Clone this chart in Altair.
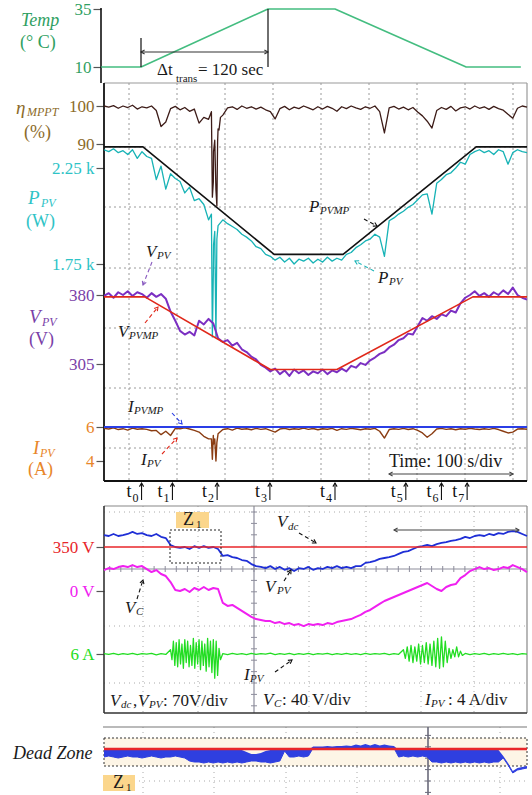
import math
import altair as alt
import pandas as pd

SERIF = "Liberation Serif"
W, H = 532, 795

# Shared time axis: 100 s spans 47.53 px, the panels' left edge (x = 104 px) sits at t = -50 s
PX_PER_S = 0.4753
LEFT = 104
T_LEFT = -50.0
XSCALE = alt.Scale(domain=[T_LEFT - LEFT / PX_PER_S, T_LEFT + (W - LEFT) / PX_PER_S], nice=False, zero=False)

# ---------------------------------------------------------------- data
T = list(range(-50, 841, 10))           # sample times of the recorded traces (s)

TEMP_T = [-56, 28, 295, 436, 712, 827]
TEMP_C = [10, 10, 35, 35, 10, 10]

ETA = [100.0, 99.7, 100.1, 99.4, 100.0, 99.6, 100.2, 99.2, 99.8, 99.5,
       100.0, 98.8, 94.6, 95.8, 99.3, 99.9, 99.0, 99.6, 98.6, 99.2,
       95.5, 97.0, 96.5, 80.0, 94.0, 97.6, 99.5, 99.8, 99.1, 100.0,
       99.4, 99.8, 99.2, 99.7, 99.0, 98.5, 96.6, 99.3, 99.9, 99.0,
       99.7, 99.3, 100.0, 99.5, 99.0, 99.8, 99.2, 99.9, 99.4, 98.6,
       99.8, 99.3, 100.0, 99.5, 99.1, 99.8, 99.4, 100.0, 98.5, 92.9,
       99.5, 99.9, 99.2, 99.7, 99.0, 99.6, 98.4, 97.4, 96.0, 94.2,
       98.8, 99.6, 99.1, 99.9, 98.7, 99.5, 99.8, 99.2, 100.0, 99.4,
       99.8, 99.1, 99.9, 99.3, 98.9, 97.8, 96.8, 99.4, 100.0, 99.7]
ETA_DIP_T = [176, 178, 180.5, 183, 185.5, 187.5, 189, 192, 195]
ETA_DIP = [98.5, 76.0, 88.0, 91.0, 78.0, 73.7, 90.5, 93.7, 97.0]

P_PV = [2345, 2335, 2350, 2330, 2340, 2320, 2345, 2300, 2335, 2310,
        2300, 2190, 2260, 2140, 2220, 2195, 2180, 2120, 2150, 2080,
        2090, 2060, 1980, 1700, 1950, 1980, 1960, 1945, 1930, 1905,
        1890, 1870, 1840, 1830, 1800, 1790, 1770, 1785, 1760, 1780,
        1750, 1775, 1765, 1780, 1755, 1775, 1760, 1785, 1765, 1780,
        1770, 1800, 1810, 1835, 1850, 1870, 1880, 1905, 1890, 1790,
        1975, 1990, 2010, 2025, 2045, 2060, 2085, 2110, 2115, 2010,
        2170, 2190, 2215, 2225, 2250, 2280, 2270, 2320, 2335, 2345,
        2330, 2340, 2320, 2345, 2335, 2270, 2330, 2345, 2335, 2330]
P_DIP_T = [176, 178, 180.5, 183, 185.5, 187.5]
P_DIP = [2010, 1370, 1850, 1920, 1370, 1880]

PMP_T = [-50, 32, 308, 453, 733, 840]
PMP_W = [2360, 2360, 1800, 1800, 2360, 2360]

V_PV = [379, 382, 377, 383, 380, 384, 379, 383, 381, 377,
        382, 378, 381, 376, 362, 352, 341, 337, 340, 336,
        352, 348, 354, 349, 333, 329, 331, 325, 328, 321,
        318, 313, 310, 304, 301, 297, 300, 294, 298, 292,
        299, 295, 298, 293, 297, 295, 299, 294, 298, 296,
        300, 297, 303, 301, 306, 304, 309, 312, 316, 318,
        323, 326, 331, 333, 338, 337, 346, 355, 352, 357,
        354, 359, 357, 363, 361, 371, 377, 380, 384, 379,
        382, 378, 383, 380, 385, 381, 388, 380, 377, 375]

VMP_T = [-50, 36, 300, 440, 726, 840]
VMP_V = [378, 378, 299, 299, 378, 378]

I_PV = [5.92, 5.88, 5.95, 5.85, 5.90, 5.82, 5.93, 5.87, 5.90, 5.86,
        5.78, 5.80, 5.55, 5.75, 5.50, 5.92, 5.90, 5.95, 5.88, 5.80,
        5.70, 5.45, 5.30, 5.50, 5.60, 5.85, 5.90, 5.82, 5.93, 5.87,
        5.90, 5.84, 5.92, 5.86, 5.90, 5.80, 5.70, 5.88, 5.92, 5.85,
        5.90, 5.87, 5.93, 5.86, 5.91, 5.84, 5.90, 5.87, 5.92, 5.80,
        5.90, 5.86, 5.92, 5.88, 5.84, 5.90, 5.87, 5.92, 5.75, 5.35,
        5.85, 5.90, 5.86, 5.92, 5.85, 5.90, 5.80, 5.65, 5.40, 5.60,
        5.88, 5.92, 5.86, 5.90, 5.84, 5.90, 5.87, 5.92, 5.88, 5.85,
        5.90, 5.86, 5.92, 5.85, 5.75, 5.65, 5.70, 5.88, 5.90, 5.87]
I_DIP_T = [176, 178, 180.5, 183, 185.5, 187.5]
I_DIP = [5.3, 4.1, 5.0, 5.3, 4.0, 5.1]

IMP_T = [-50, 840]
IMP_A = [6.0, 6.0]

T_MARKS = [29, 94, 188, 299, 436, 585, 660, 714]

# oscilloscope record
VDC_T = [-50, 840]
VDC_V = [350, 350]

SC_VPV = [364.5, 363.5, 366, 363.5, 364.5, 366, 368.5, 366, 367, 364.5,
          363.5, 366, 362.5, 361, 352.5, 350, 349, 350, 347.5, 351,
          349, 351, 349, 350, 347.5, 339, 340, 337.5, 336.5, 334,
          333, 329, 326.5, 325.5, 324, 326.5, 323, 325.5, 322, 324,
          320.5, 324, 323, 325.5, 322, 324, 323, 325.5, 324, 326.5,
          324, 325.5, 324, 326.5, 326.5, 330.5, 331.5, 333, 335.5, 336.5,
          337.5, 339, 341.5, 344, 345, 347.5, 350, 351, 352.5, 351,
          353.5, 355, 356, 357.5, 358.5, 360, 362.5, 361, 363.5, 364.5,
          363.5, 366, 364.5, 367, 366, 368.5, 369.5, 368.5, 366, 363.5]

SC_VC = [14.7, 16.1, 15.4, 16.8, 17.5, 16.8, 18.2, 16.8, 17.5, 15.4,
         13.3, 14.7, 11.9, 10.5, 6.3, 0.7, 0.0, 1.4, -0.7, 2.1,
         0.7, 2.8, 0.7, 2.1, 1.4, -8.4, -10.5, -9.8, -11.9, -14.0,
         -16.1, -18.2, -19.7, -20.4, -21.1, -21.1, -22.5, -21.8, -23.2, -22.5,
         -23.9, -23.2, -24.6, -23.2, -23.9, -23.2, -23.9, -22.5, -23.2, -21.8,
         -21.1, -20.4, -19.7, -18.2, -16.8, -14.7, -13.3, -11.2, -9.1, -7.0,
         -5.6, -4.2, -2.8, -1.4, 0.0, 1.4, 2.8, 4.2, 5.6, 3.5,
         1.4, 0.0, 2.8, 4.2, 4.9, 9.1, 11.2, 14.0, 15.4, 16.8,
         15.4, 16.1, 14.7, 15.4, 16.8, 16.1, 18.2, 16.8, 15.4, 13.3]

SC_IPV_T = (list(range(-50, 81, 10)) + list(range(90, 196, 3)) + list(range(200, 571, 10))
            + list(range(580, 705, 4)) + list(range(710, 841, 10)))
SC_IPV = ([6.02, 5.97, 6.04, 5.95, 6.03, 5.98, 6.05, 5.96, 6.02, 5.99, 6.04, 5.94, 6.03, 5.97]
          + [6.3, 5.6, 6.9, 5.2, 6.8, 5.1, 7.0, 5.3, 6.7, 5.0, 7.0, 5.4, 6.9, 5.1, 6.6, 5.2, 7.1, 5.0,
             6.8, 5.3, 7.0, 4.9, 6.9, 5.2, 6.7, 4.8, 7.1, 5.1, 6.9, 4.7, 7.0, 4.3, 6.9, 4.5, 6.4, 5.6]
          + [6.03, 5.96, 6.05, 5.98, 6.02, 5.95, 6.04, 5.97, 6.03, 5.99, 6.06, 5.96, 6.02, 5.98,
             6.04, 5.95, 6.03, 5.97, 6.05, 5.96, 6.02, 5.99, 6.04, 5.95, 6.03, 5.97, 6.05, 5.98,
             6.02, 5.96, 6.04, 5.97, 6.03, 5.99, 6.05, 5.96, 6.02, 5.98]
          + [6.3, 5.7, 6.5, 5.5, 6.6, 5.4, 6.5, 5.5, 6.7, 5.3, 6.6, 5.4, 6.8, 5.3, 6.7, 5.2,
             6.9, 5.1, 7.1, 5.0, 7.2, 5.1, 6.9, 5.4, 6.4, 5.7, 6.3, 5.8, 6.5, 5.8, 6.2, 5.9]
          + [6.04, 5.96, 6.03, 5.98, 6.05, 5.95, 6.02, 5.97, 6.04, 5.98, 6.03, 5.96, 6.02, 5.99])

# dead-zone strip: envelope of the tracking voltage around the 350 V reference
DZ_UPPER = [349.5, 349.5, 349.5, 349.5, 349.5, 349.5, 349.5, 349.5, 349.5, 349.5,
            349.5, 349.5, 349.5, 349.5, 349.5, 349.5, 349.5, 349.5, 349.5, 349.5,
            349.5, 349.5, 349.5, 349.5, 349.5, 349.5, 349.5, 349.5, 349.5, 349.5,
            348.5, 347.5, 347.5, 348.0, 349.0, 349.5, 349.5, 349.5, 349.5, 349.5,
            349.5, 349.5, 349.5, 349.5, 351.25, 351.25, 351.25, 351.5, 351.25, 351.5,
            351.5, 351.75, 351.5, 352.25, 351.75, 352.5, 351.75, 352.5, 351.75, 352.25,
            351.75, 351.5, 349.5, 349.5, 349.5, 349.5, 349.5, 349.5, 349.5, 349.5,
            349.5, 349.5, 349.5, 349.5, 349.5, 349.5, 349.5, 349.5, 349.5, 349.5,
            349.5, 349.5, 349.5, 349.5, 346.5, 343.0, 339.0, 340.5, 341.0, 341.5]
DZ_LOWER = [346, 346.5, 346, 345.5, 346, 346.5, 346, 346, 345.5, 346,
            346.5, 346, 345.5, 346, 346, 346.5, 346, 345.5, 344, 343.5,
            343.5, 343, 343.5, 343, 343.5, 343, 343.5, 343, 343.5, 343,
            343.5, 344, 344, 343.5, 343.5, 343, 343.5, 344, 349, 346,
            346, 346.5, 346, 346.5, 350.5, 350.5, 350.5, 350.5, 350.5, 350.5,
            350.5, 350.5, 350.5, 350.5, 350.5, 350.5, 350.5, 350.5, 350.5, 350.5,
            350.5, 350.5, 346, 346.5, 346, 346.5, 346, 346.5, 346, 343.5,
            343.5, 343, 343.5, 343, 343.5, 343, 343.5, 343, 343.5, 343,
            343.5, 343, 343.5, 343.5, 345.5, 342, 338, 339.5, 340, 340.5]

# ---------------------------------------------------------------- colours
TEMP_LINE, TEMP_TXT = "#44bd80", "#2f9f62"
ETA_LINE, ETA_TXT = "#3d1c18", "#8c6b2a"
P_LINE, P_TXT = "#17b3b6", "#2ec3c6"
V_LINE, V_TXT = "#7b2fc2", "#7a3fa8"
VMP_LINE = "#e0281a"
I_LINE, I_TXT = "#8a3c12", "#e8862a"
IMP_LINE = "#2a3ee6"
SC_RED, SC_BLUE, SC_MAG, SC_GRN = "#e8262a", "#1f2fd6", "#f020f0", "#22dd22"
INK = "#1a1a1a"
GRID = "#9a9a9a"
ZONE = "#fbd68c"


def y_domain(v_a, y_a, v_b, y_b):
    """Value range of a full-height y scale on which v_a lands at pixel y_a and v_b at y_b."""
    k = (v_a - v_b) / (y_b - y_a)
    return [v_a - (H - y_a) * k, v_a + y_a * k]


def yscale(dom):
    return alt.Scale(domain=dom, nice=False, zero=False)


def left_axis(values, color, offset=-LEFT, expr=None):
    kw = dict(orient="left", offset=offset, values=values, domain=False, grid=False,
              ticks=True, tickSize=8, tickColor="#555", tickWidth=1.2,
              labelColor=color, labelFont=SERIF, labelFontSize=17, labelPadding=2,
              title=None, labelOverlap=False)
    if expr:
        kw["labelExpr"] = expr
    return alt.Axis(**kw)


def trace(t, v, color, dom, width=1.4, axis=None):
    df = pd.DataFrame({"t": t, "v": v})
    return alt.Chart(df).mark_line(color=color, strokeWidth=width, strokeJoin="round").encode(
        x=alt.X("t:Q", scale=XSCALE, axis=None),
        y=alt.Y("v:Q", scale=yscale(dom), axis=axis),
    )


def merged(t_base, v_base, t_extra, v_extra):
    df = pd.DataFrame({"t": list(t_base) + list(t_extra), "v": list(v_base) + list(v_extra)})
    return df.sort_values("t")


def px_rules(rows, color, width=1.0, dash=None):
    df = pd.DataFrame(rows, columns=["x", "y", "x2", "y2"])
    mk = dict(color=color, strokeWidth=width)
    if dash:
        mk["strokeDash"] = dash
    return alt.Chart(df).mark_rule(**mk).encode(
        x=alt.X("x:Q", scale=None), y=alt.Y("y:Q", scale=None), x2="x2:Q", y2="y2:Q")


def px_rects(rows, fill, stroke=None, dash=None):
    df = pd.DataFrame(rows, columns=["x", "y", "x2", "y2"])
    mk = dict(fill=fill, opacity=1)
    if stroke:
        mk.update(stroke=stroke, strokeWidth=1)
    if dash:
        mk["strokeDash"] = dash
    return alt.Chart(df).mark_rect(**mk).encode(
        x=alt.X("x:Q", scale=None), y=alt.Y("y:Q", scale=None), x2="x2:Q", y2="y2:Q")


def labels(rows, italic=False):
    df = pd.DataFrame(rows, columns=["x", "y", "text", "size", "color"])
    return alt.Chart(df).mark_text(font=SERIF, align="left", baseline="middle",
                                   fontStyle="italic" if italic else "normal").encode(
        x=alt.X("x:Q", scale=None), y=alt.Y("y:Q", scale=None), text="text:N",
        size=alt.Size("size:Q", scale=None), color=alt.Color("color:N", scale=None))


HEAD = "M-0.7,1.2L0,0L0.7,1.2"


def heads(rows, size=36):
    df = pd.DataFrame(rows, columns=["x", "y", "a", "color"])
    return alt.Chart(df).mark_point(shape=HEAD, filled=False, size=size, opacity=1, strokeWidth=1.1).encode(
        x=alt.X("x:Q", scale=None), y=alt.Y("y:Q", scale=None),
        angle=alt.Angle("a:Q", scale=None), color=alt.Color("color:N", scale=None))


def head_angle(x1, y1, x2, y2):
    return math.degrees(math.atan2(x2 - x1, -(y2 - y1))) % 360


def arrows(rows, dashed=True, both=False):
    """rows: (x1, y1, x2, y2, colour); head drawn at (x2, y2), and at (x1, y1) too when both."""
    df = pd.DataFrame(rows, columns=["x", "y", "x2", "y2", "color"])
    mk = dict(strokeWidth=1.1)
    if dashed:
        mk["strokeDash"] = [4, 3]
    line = alt.Chart(df).mark_rule(**mk).encode(
        x=alt.X("x:Q", scale=None), y=alt.Y("y:Q", scale=None), x2="x2:Q", y2="y2:Q",
        color=alt.Color("color:N", scale=None))
    tips = [(r[2], r[3], head_angle(*r[:4]), r[4]) for r in rows]
    if both:
        tips += [(r[0], r[1], head_angle(r[2], r[3], r[0], r[1]), r[4]) for r in rows]
    return [line, heads(tips)]


# ---------------------------------------------------------------- scales
D_TEMP = y_domain(35, 9, 10, 67)
D_ETA = y_domain(100, 106, 90, 144)
D_P = y_domain(2250, 168, 1750, 264)
D_V = y_domain(380, 295, 305, 364)
D_I = y_domain(6, 427, 4, 461)
D_SCV = y_domain(350, 547, 280, 604)     # 70 V/div
D_SCC = y_domain(0, 591, -40, 648)       # 40 V/div
D_SCI = y_domain(6, 654, 2, 711)         # 4 A/div
D_DZ = y_domain(350, 749, 340, 769)

layers = []

# ---------------------------------------------------------------- grids and frames
main_v = [129, 177, 225, 273, 321, 369, 417, 465, 513]
main_h = [147, 207, 268, 328, 388, 448]
layers.append(px_rules([(x, 83, x, 481) for x in main_v] + [(LEFT, y, 527, y) for y in main_h],
                       GRID, 1, [2, 3]))
layers.append(px_rules([(LEFT, 83, 527, 83), (527, 83, 527, 481)], "#999", 1.2))
layers.append(px_rules([(LEFT, 83, LEFT, 481), (LEFT, 481, 527, 481)], "#111", 1.8))
layers.append(px_rules([(101, 8, 101, 83)], "#111", 1.6))

sc_v = [143, 198, 309, 366, 421, 474]
sc_h = [512, 626, 683]
layers.append(px_rules([(x, 506, x, 713) for x in sc_v] + [(LEFT, y, 527, y) for y in sc_h],
                       "#aaa", 1, [1, 4]))
layers.append(px_rules([(254, 506, 254, 713), (LEFT, 569, 527, 569)], "#8d8d9c", 1.2))
sc_ticks = ([(254 + k * 11.1, 566, 254 + k * 11.1, 572) for k in range(-13, 25) if 104 <= 254 + k * 11.1 <= 527]
            + [(251, 569 + k * 11.4, 257, 569 + k * 11.4) for k in range(-5, 13) if 506 <= 569 + k * 11.4 <= 713])
layers.append(px_rules(sc_ticks, "#8d8d9c", 1))
layers.append(px_rules([(LEFT, 506, 527, 506), (527, 506, 527, 713)], "#888", 1.2))
layers.append(px_rules([(LEFT, 506, LEFT, 713), (LEFT, 713, 527, 713)], "#333", 1.6))

dz_v = [143, 214, 286, 357, 500]
layers.append(px_rules([(x, 727, x, 795) for x in dz_v] + [(LEFT, 781, 527, 781)], "#aaa", 1, [1, 4]))
layers.append(px_rules([(103, 727, 527, 727)], "#777", 1.2))
layers.append(px_rects([(LEFT, 738, 527, 766)], "#fdf5e6", "#333", [2, 2]))
layers.append(px_rules([(428, 727, 428, 795)], "#6a6a7a", 1.6))
layers.append(px_rules([(425, 781 + k * 11.4, 431, 781 + k * 11.4) for k in range(-4, 2)], "#6a6a7a", 1))

# ---------------------------------------------------------------- temperature profile
layers.append(trace(TEMP_T, TEMP_C, TEMP_LINE, D_TEMP, 1.6,
                    left_axis([10, 35], TEMP_TXT, offset=-101)))

# ---------------------------------------------------------------- main record
pdf = merged(T, P_PV, P_DIP_T, P_DIP)
layers.append(trace(pdf["t"], pdf["v"], P_LINE, D_P, 1.3,
                    left_axis([2250, 1750], P_TXT, expr="format(datum.value / 1000, '.2f') + ' k'")))
layers.append(trace(PMP_T, PMP_W, "#111", D_P, 1.6))
edf = merged(T, ETA, ETA_DIP_T, ETA_DIP)
layers.append(trace(edf["t"], edf["v"], ETA_LINE, D_ETA, 1.3, left_axis([100, 90], ETA_TXT)))
layers.append(trace(T, V_PV, V_LINE, D_V, 2.0, left_axis([380, 305], V_TXT)))
layers.append(trace(VMP_T, VMP_V, VMP_LINE, D_V, 1.6))
idf = merged(T, I_PV, I_DIP_T, I_DIP)
layers.append(trace(idf["t"], idf["v"], I_LINE, D_I, 1.4, left_axis([6, 4], I_TXT)))
layers.append(trace(IMP_T, IMP_A, IMP_LINE, D_I, 2.0))

# event markers under the main record
mk = pd.DataFrame({"t": T_MARKS, "n": [str(i) for i in range(len(T_MARKS))]})
layers.append(alt.Chart(mk).mark_rule(color="#111", strokeWidth=1.1).encode(
    x=alt.X("t:Q", scale=XSCALE, axis=None), y=alt.value(500), y2=alt.value(483)))
layers.append(alt.Chart(mk).mark_point(shape=HEAD, filled=False, size=36, opacity=1, color="#111",
                                       strokeWidth=1.1).encode(
    x=alt.X("t:Q", scale=XSCALE, axis=None), y=alt.value(483)))
layers.append(alt.Chart(mk).mark_text(font=SERIF, fontSize=18, align="left", baseline="middle",
                                      dx=-15, color="#111", text="t").encode(
    x=alt.X("t:Q", scale=XSCALE, axis=None), y=alt.value(492)))
layers.append(alt.Chart(mk).mark_text(font=SERIF, fontSize=12, align="left", baseline="middle",
                                      dx=-9, color="#111").encode(
    x=alt.X("t:Q", scale=XSCALE, axis=None), y=alt.value(498), text="n:N"))

# ---------------------------------------------------------------- oscilloscope record
layers.append(trace(T, SC_VPV, SC_BLUE, D_SCV, 1.8))
layers.append(trace(VDC_T, VDC_V, SC_RED, D_SCV, 1.3,
                    left_axis([350], SC_RED, expr="datum.value + ' V'")))
layers.append(trace(T, SC_VC, SC_MAG, D_SCC, 2.0, left_axis([0], SC_MAG, expr="datum.value + ' V'")))
layers.append(trace(SC_IPV_T, SC_IPV, SC_GRN, D_SCI, 1.3, left_axis([6], SC_GRN, expr="datum.value + ' A'")))
layers.append(px_rects([(170, 530, 221, 563)], "transparent", "#222", [2, 2]))
layers.append(px_rects([(176, 512, 209, 528), (103, 775, 135, 791)], ZONE))

# ---------------------------------------------------------------- dead-zone strip
dz = pd.DataFrame({"t": T, "lo": DZ_LOWER, "hi": DZ_UPPER})
layers.append(alt.Chart(dz).mark_area(color="#2f3fe0", opacity=1, line={"color": "#2f3fe0", "strokeWidth": 1}).encode(
    x=alt.X("t:Q", scale=XSCALE, axis=None),
    y=alt.Y("lo:Q", scale=yscale(D_DZ), axis=None), y2="hi:Q"))
layers.append(trace(VDC_T, VDC_V, SC_RED, D_DZ, 2.4))

# ---------------------------------------------------------------- arrows
layers += arrows([
    (152, 262, 143, 285, "#8a5cc0"),
    (145, 323, 158, 307, VMP_LINE),
    (364, 219, 377, 226, "#111"),
    (374, 271, 355, 261, P_LINE),
    (172, 413, 182, 424, IMP_LINE),
    (162, 454, 177, 438, VMP_LINE),
    (299, 533, 316, 543, "#111"),
    (284, 581, 291, 570, "#111"),
    (137, 599, 143, 580, "#111"),
    (275, 672, 292, 660, "#111"),
])
layers += arrows([(141, 52, 268, 52, "#333"), (389, 474, 513, 474, "#444"), (394, 530, 519, 530, "#444")],
                 dashed=False, both=True)
layers.append(px_rules([(141, 38, 141, 67), (268, 9, 268, 67)], "#222", 1.3))

# ---------------------------------------------------------------- text
layers.append(labels([
    (20, 43, "(° C)", 18, TEMP_TXT),
    (24, 133, "(%)", 18, ETA_TXT),
    (26, 222, "(W)", 18, P_TXT),
    (29, 340, "(V)", 18, V_TXT),
    (28, 470, "(A)", 18, I_TXT),
    (157, 70, "Δt", 17, INK),
    (176, 79, "trans", 11, INK),
    (198, 70, "= 120 sec", 17, INK),
    (389, 462, "Time: 100 s/div", 18, INK),
    (183, 520, "Z", 18, INK), (196, 525, "1", 11, INK),
    (113, 783, "Z", 18, INK), (126, 788, "1", 11, INK),
    (133, 701, ",", 17, INK),
    (163, 701, ": 70V/div", 17, INK),
    (282, 700, ": 40 V/div", 17, INK),
    (448, 700, ": 4 A/div", 17, INK),
]))
layers.append(labels([
    (21, 21, "Temp", 18, TEMP_TXT),
    (16, 108, "η", 19, ETA_TXT), (27, 112, "MPPT", 12, ETA_TXT),
    (28, 198, "P", 19, P_TXT), (41, 203, "PV", 12, P_TXT),
    (29, 317, "V", 19, V_TXT), (42, 322, "PV", 12, V_TXT),
    (33, 448, "I", 19, I_TXT), (40, 453, "PV", 12, I_TXT),
    (146, 252, "V", 17, INK), (157, 256, "PV", 11, INK),
    (118, 332, "V", 17, INK), (129, 336, "PVMP", 11, INK),
    (309, 207, "P", 17, INK), (320, 211, "PVMP", 11, INK),
    (378, 278, "P", 17, INK), (389, 282, "PV", 11, INK),
    (128, 407, "I", 17, INK), (134, 411, "PVMP", 11, INK),
    (141, 460, "I", 17, INK), (147, 464, "PV", 11, INK),
    (277, 522, "V", 17, INK), (288, 527, "dc", 11, INK),
    (265, 587, "V", 17, INK), (277, 591, "PV", 11, INK),
    (125, 608, "V", 17, INK), (136, 612, "C", 11, INK),
    (244, 675, "I", 17, INK), (250, 679, "PV", 11, INK),
    (110, 701, "V", 17, INK), (121, 705, "dc", 11, INK),
    (138, 701, "V", 17, INK), (149, 705, "PV", 11, INK),
    (263, 700, "V", 17, INK), (274, 704, "C", 11, INK),
    (425, 700, "I", 17, INK), (431, 704, "PV", 11, INK),
    (13, 754, "Dead Zone", 18, INK),
], italic=True))

chart = alt.layer(*layers).resolve_scale(y="independent").properties(
    width=W, height=H, padding=0, autosize=alt.AutoSizeParams(type="none"),
    background="white",
).configure_view(stroke=None)

chart.save("out.html", embed_options={"renderer": "svg", "actions": False})
